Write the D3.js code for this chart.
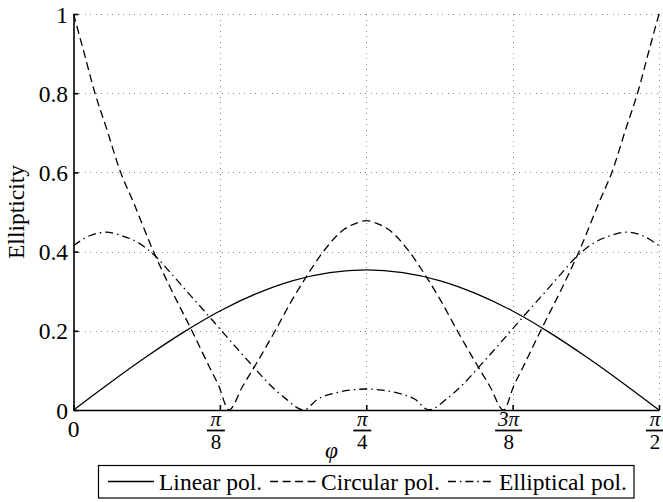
<!DOCTYPE html>
<html><head><meta charset="utf-8">
<script src="https://cdn.jsdelivr.net/npm/d3@7"></script>
<style>body{margin:0;background:#fff} svg{display:block}</style>
</head><body><svg id="c" width="663" height="502"></svg>
<script>
// ---- data (phi in degrees, 90 = pi/2) ----
const linearPhi = [0,5.625,11.25,16.875,22.5,28.125,33.75,39.375,45,50.625,56.25,61.875,67.5,73.125,78.75,84.375,90];
const linearVal = [0,0.069,0.135,0.196,0.250,0.294,0.327,0.347,0.354,0.347,0.327,0.294,0.250,0.196,0.135,0.069,0];

const circPhi = [0,1.5,3.3,5,7.25,9.2,12.3,15,18.2,21,22.3,23.9,26,28.2,31,33.5,35.8,38.4,41.5,43.5,45,46.5,48.5,51.6,54.2,56.5,59,61.8,64,66.1,67.7,69,71.8,75,77.7,80.8,82.75,85,86.7,88.5,90];
const circVal = [1.0,0.91,0.80,0.715,0.60,0.525,0.40,0.305,0.20,0.105,0.062,0.0,0.06,0.12,0.20,0.275,0.337,0.40,0.455,0.472,0.478,0.472,0.455,0.40,0.337,0.275,0.20,0.12,0.06,0.0,0.062,0.105,0.20,0.305,0.40,0.525,0.60,0.715,0.80,0.91,1.0];

const ellPhi = [0,2.5,5,7.5,10,12.5,15,17.5,20,22.5,25,27.5,30,32.5,35.4,37.5,40,42.5,45,47.5,50,52.5,54.6,57.5,60,62.5,65,67.5,70,72.5,75,77.5,80,82.5,85,87.5,90];
const ellVal = [0.415,0.44,0.449,0.44,0.422,0.39,0.345,0.298,0.252,0.205,0.158,0.112,0.067,0.03,0.0,0.027,0.042,0.05,0.053,0.05,0.042,0.027,0.0,0.03,0.067,0.112,0.158,0.205,0.252,0.298,0.345,0.39,0.422,0.44,0.449,0.44,0.415];

const xTickVals = [0,22.5,45,67.5,90];
const xTickNum = ["0","π","π","3π","π"];
const xTickDen = [null,"8","4","8","2"];
const yTickVals = [0,0.2,0.4,0.6,0.8,1];
const yTickLabels = ["0","0.2","0.4","0.6","0.8","1"];
const seriesNames = ["Linear pol.","Circular pol.","Elliptical pol."];

// ---- layout ----
const FONT = "'Liberation Serif', 'Times New Roman', serif";
const FS = 23.5;
const FSF = 21;
const svg = d3.select("#c");
const x = d3.scaleLinear().domain([0,90]).range([73.5,659]);
const y = d3.scaleLinear().domain([0,1]).range([410,14]);

// grid
const grid = svg.append("g").attr("stroke","#8a8a8a").attr("stroke-width",1).attr("stroke-dasharray","1,4.5").attr("shape-rendering","crispEdges");
xTickVals.slice(1).forEach(v=>grid.append("line").attr("x1",Math.round(x(v))+0.5).attr("x2",Math.round(x(v))+0.5).attr("y1",y(1)).attr("y2",y(0)));
yTickVals.slice(1).forEach(v=>grid.append("line").attr("y1",Math.round(y(v))+0.5).attr("y2",Math.round(y(v))+0.5).attr("x1",x(0)).attr("x2",x(90)));

// series
const styles = [
  {dash:null},
  {dash:"8,4.5"},
  {dash:"8,4,1.5,4"}
];
const series = [
  {phi:linearPhi, val:linearVal},
  {phi:circPhi, val:circVal},
  {phi:ellPhi, val:ellVal}
];
const line = d3.line().x(d=>x(d[0])).y(d=>y(d[1])).curve(d3.curveMonotoneX);
series.forEach((s,i)=>{
  const pts = s.phi.map((p,j)=>[p,s.val[j]]);
  svg.append("path").attr("d",line(pts)).attr("fill","none").attr("stroke","#000")
    .attr("stroke-width",1.3).attr("stroke-dasharray",styles[i].dash);
});

// axes
const yAxis = d3.axisLeft(y).tickValues(yTickVals).tickFormat((d,i)=>yTickLabels[i]).tickSizeInner(-5).tickSizeOuter(0).tickPadding(5.5);
const gy = svg.append("g").attr("transform",`translate(${x(0)},0)`).call(yAxis);
gy.selectAll("text").attr("font-family",FONT).attr("font-size",FS).attr("fill","#000").attr("x",-5.5).attr("dy","0.34em");
gy.select(".domain").attr("stroke-width",1.6);
gy.selectAll(".tick line").attr("stroke-width",1.6);

const xAxis = d3.axisBottom(x).tickValues(xTickVals).tickFormat("").tickSizeInner(-5).tickSizeOuter(0);
const gx = svg.append("g").attr("transform",`translate(0,${y(0)})`).call(xAxis);
gx.select(".domain").attr("stroke-width",1.6);
gx.selectAll(".tick line").attr("stroke-width",1.6);

// x tick labels (fractions)
xTickVals.forEach((v,i)=>{
  const g = svg.append("g").attr("font-family",FONT).attr("fill","#000");
  if(xTickDen[i]===null){
    g.append("text").attr("x",x(v)).attr("y",437).attr("text-anchor","middle").attr("font-size",FS).text(xTickNum[i]);
  } else {
    const cx = x(v) - 4;
    const num = g.append("text").attr("x",cx).attr("y",426).attr("text-anchor","middle").attr("font-size",FSF).attr("font-style","italic").text(xTickNum[i]);
    g.append("text").attr("x",cx).attr("y",449).attr("text-anchor","middle").attr("font-size",FSF).text(xTickDen[i]);
    const w = num.node().getComputedTextLength();
    const half = Math.max(w/2+3, 9);
    g.append("line").attr("x1",cx-half).attr("x2",cx+half).attr("y1",430.5).attr("y2",430.5).attr("stroke","#000").attr("stroke-width",1.8);
  }
});

// axis titles
svg.append("text").attr("x",331.5).attr("y",458).attr("text-anchor","middle").attr("font-family",FONT).attr("font-style","italic").attr("font-size",FS).text("φ");
svg.append("text").attr("transform","translate(24,212) rotate(-90)").attr("text-anchor","middle").attr("font-family",FONT).attr("font-size",FS).text("Ellipticity");

// legend
const lg = svg.append("g");
lg.append("rect").attr("x",98.5).attr("y",465.5).attr("width",535.5).attr("height",32.5).attr("fill","#fff").attr("stroke","#000").attr("stroke-width",1.2);
let cx = 108;
seriesNames.forEach((name,i)=>{
  lg.append("line").attr("x1",cx).attr("x2",cx+46).attr("y1",481.5).attr("y2",481.5).attr("stroke","#000").attr("stroke-width",1.3).attr("stroke-dasharray",styles[i].dash);
  const t = lg.append("text").attr("x",cx+51).attr("y",489.5).attr("font-family",FONT).attr("font-size",FS).text(name);
  cx = cx + 51 + t.node().getComputedTextLength() + 8;
});
</script></body></html>
